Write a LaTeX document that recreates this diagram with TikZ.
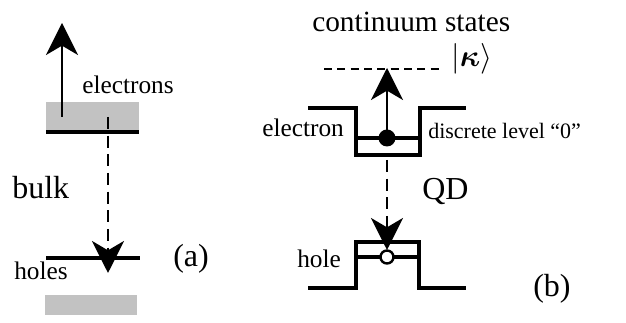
\documentclass[tikz,border=0pt]{standalone}
\usepackage{amsmath}
\usepackage{graphicx}
\usepackage{fontspec}
\setmainfont{Liberation Serif}
\usetikzlibrary{arrows.meta}

\tikzset{
  level/.style={line width=2.7pt},
  band/.style={fill=black!24},
  shaft/.style={line width=1.8pt},
  lbl/.style={anchor=west, inner sep=0pt, font=\fontsize{19}{22}\selectfont},
  biglbl/.style={anchor=west, inner sep=0pt, font=\fontsize{24}{26}\selectfont}
}

\begin{document}
\begin{tikzpicture}[x=0.75pt,y=-0.75pt,>={Stealth[length=24pt,width=24pt,inset=7pt]}]
	\useasboundingbox (0,0) rectangle (626,323);
	% bulk, panel (a)
	\fill[band] (46,102) rectangle (139,130);
	\fill[band] (45,295) rectangle (137,315);
	\draw[level] (46,132) -- (139,132);
	\draw[level] (46,258) -- (140,258);
	\coordinate (cbstart) at (62,117);
	\coordinate (cbtop) at (62,23);
	\coordinate (recstart) at (108,117);
	\coordinate (recend) at (108,273);
	\draw[shaft,->] (cbstart) -- (cbtop);
	\draw[shaft,->,dash pattern=on 9pt off 5pt] (recstart) -- (recend);
	\draw (82,85) node[lbl] (electrons) {electrons};
	\draw (12,188) node[biglbl] (bulk) {bulk};
	\draw (14,271) node[lbl] (holes) {holes};
	\draw (173,259) node[biglbl] (panela) {(a)};
	% quantum dot, panel (b)
	\draw[level] (308,108) -- (356,108) -- (356,155) -- (420,155)
		-- (420,108) -- (466,108);
	\draw[level] (356,138) -- (420,138);
	\draw[level] (308,288) -- (356,288) -- (356,242) -- (419,242)
		-- (419,288) -- (466,288);
	\draw[level] (356,257) -- (419,257);
	\draw[line width=2.2pt,dash pattern=on 6pt off 4pt] (324,69) -- (443,69);
	\fill[black] (387,138) circle (8.5);
	\coordinate (elev) at (387,138);
	\coordinate (kappa) at (387,68);
	\coordinate (qdstart) at (387,160);
	\coordinate (qdend) at (387,250);
	\draw[shaft,->] (elev) -- (kappa);
	\draw[shaft,->,dash pattern=on 9pt off 5pt] (qdstart) -- (qdend);
	\draw[fill=white,line width=1.8pt] (387,257) circle (6.5);
	\draw (312,22) node[lbl,font=\fontsize{22}{24}\selectfont] (cont) {continuum states};
	\draw (451,59) node[anchor=west,inner sep=0pt] (ket) {\scalebox{2.3}{$|\boldsymbol{\kappa}\rangle$}};
	\draw (262,128) node[lbl] (electron) {electron};
	\draw (428,131) node[lbl,font=\fontsize{16.5}{20}\selectfont] (discrete) {discrete level “0”};
	\draw (422,192) node[biglbl] (qd) {QD};
	\draw (297,259) node[lbl] (hole) {hole};
	\draw (533,289) node[biglbl] (panelb) {(b)};
\end{tikzpicture}
\end{document}
